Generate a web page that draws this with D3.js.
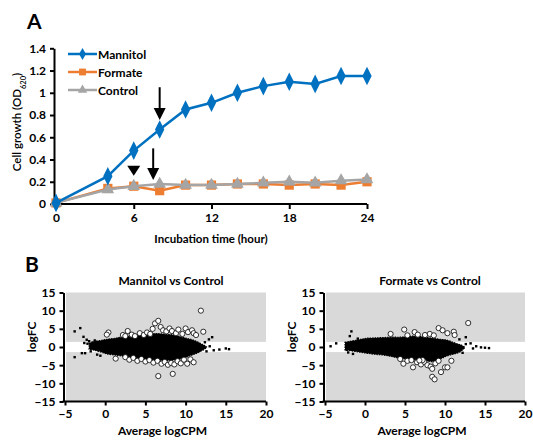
<!DOCTYPE html>
<html>
<head>
<meta charset="utf-8">
<script src="https://cdn.jsdelivr.net/npm/d3@7"></script>
<style>
  body { margin: 0; background: #fff; }
  svg { font-family: Lato, "Open Sans", sans-serif; font-weight: bold; }
  .axis path, .axis line { stroke: #000; stroke-width: 2; }
  .axis text { font-size: 12px; font-family: Lato, sans-serif; font-weight: bold; fill: #000; }
</style>
</head>
<body>
<div id="chart"></div>
<script>
// ---- panel A data ----
var hours = [0, 4, 6, 8, 10, 12, 14, 16, 18, 20, 22, 24];
var mannitol = [0.01, 0.25, 0.48, 0.67, 0.85, 0.91, 1.00, 1.06, 1.10, 1.08, 1.15, 1.15];
var formate  = [0.01, 0.14, 0.16, 0.12, 0.17, 0.17, 0.18, 0.18, 0.17, 0.18, 0.17, 0.20];
var control  = [0.01, 0.13, 0.16, 0.18, 0.17, 0.17, 0.18, 0.19, 0.20, 0.19, 0.21, 0.22];
var yTicksA = [0, 0.2, 0.4, 0.6, 0.8, 1, 1.2, 1.4];
var xTicksA = [0, 6, 12, 18, 24];

// ---- panel B data (MA plots) ----
var xTicksB = [-5, 0, 5, 10, 15, 20];
var yTicksB = [-15, -10, -5, 0, 5, 10, 15];
// dense core of the cloud: [logCPM, upper logFC, lower logFC]
var mcCore = [[-2.0,1.0,-0.6],[-1.5,1.5,-0.8],[-0.5,1.8,-1.4],[0.2,2.1,-1.9],[1.2,2.4,-2.2],[2.2,2.8,-2.5],
  [3.3,3.0,-2.8],[4.3,3.3,-3.1],[5.4,3.5,-3.4],[6.4,3.7,-3.6],[7.4,3.5,-3.7],[8.5,3.3,-3.6],
  [9.3,2.9,-3.3],[10.1,2.4,-2.8],[10.8,2.0,-2.2],[11.4,1.5,-1.7],[12.2,0.6,-0.8],[12.6,0.1,-0.2]];
var fcCore = [[-2.5,1.3,-0.8],[-1.0,1.9,-1.3],[0.2,2.4,-1.7],[1.2,2.5,-2.0],[2.3,2.6,-2.2],[3.3,2.7,-2.6],
  [4.4,2.7,-3.1],[5.4,2.9,-3.3],[6.5,3.0,-3.6],[7.5,2.7,-3.8],[8.5,2.4,-4.0],[9.4,2.1,-3.3],
  [10.2,1.9,-2.5],[11.0,1.3,-2.0],[11.5,0.9,-1.7],[12.1,0.5,-1.0],[12.4,0.0,-0.3]];
var mcDots = [[-3.8,4.3],[-3.1,5.2],[-3.8,-2.8],[-2.7,2.8],[-2.3,2.0],[-2.0,1.6],[-2.9,-1.7],[-2.5,-1.7],
  [-2.2,0.9],[-1.8,-1.2],[-1.0,-2.1],[-0.6,-2.4],[-1.3,1.8],[-1.4,0.3],[-2.6,1.1],[12.9,2.1],[13.3,2.7],
  [13.5,-0.9],[14.2,-0.7],[15.0,-0.4],[15.4,-0.6],[12.6,-1.2],[12.4,1.3],[13.0,0.2]];
var fcDots = [[-4.3,0.2],[-3.6,1.0],[-1.7,4.3],[-1.9,3.0],[-2.3,-0.8],[-2.1,-1.5],[-1.5,-1.9],[-0.9,2.3],
  [12.3,-0.2],[12.6,0.8],[13.2,1.0],[12.6,2.7],[13.9,0.2],[14.5,-0.1],[15.0,-0.2],[15.5,-0.3],
  [13.5,-0.4],[11.8,2.1],[12.2,-1.6]];
var mcCircles = [[0.4,4.0],[0.2,3.4],[2.2,3.3],[2.8,4.4],[2.5,3.0],[3.3,3.4],[3.7,3.0],[4.3,3.8],[4.8,3.3],
  [5.2,4.0],[5.6,3.6],[5.9,5.0],[6.2,6.5],[6.6,7.2],[6.9,5.5],[7.2,4.6],[7.6,4.3],[8.0,5.1],[8.3,4.4],
  [8.8,3.8],[9.1,4.8],[9.6,3.6],[10.0,5.1],[10.3,4.1],[10.8,4.6],[11.0,3.8],[11.3,3.3],[12.2,4.2],[11.9,10.0],
  [1.3,-3.2],[2.5,-2.8],[3.0,-3.5],[3.5,-3.0],[4.0,-3.8],[4.5,-3.3],[5.0,-4.0],[5.5,-3.6],[6.0,-4.3],
  [6.5,-3.8],[7.0,-4.6],[7.4,-4.1],[7.8,-4.9],[8.2,-4.4],[8.6,-4.8],[9.0,-3.9],[9.4,-4.5],[9.8,-3.5],
  [10.2,-4.6],[10.6,-3.4],[11.0,-4.2],[6.6,-8.0],[8.4,-7.4]];
var fcCircles = [[3.2,3.6],[4.9,4.8],[5.3,3.2],[6.2,4.1],[6.6,3.4],[7.5,3.3],[8.1,3.6],[8.6,3.2],[9.2,5.2],
  [9.7,4.6],[10.3,3.8],[11.1,4.2],[11.2,3.3],[12.9,6.6],
  [4.4,-3.3],[4.8,-4.6],[5.3,-3.8],[5.8,-3.6],[6.0,-5.6],[6.5,-4.2],[7.0,-4.8],[7.4,-4.1],[7.8,-5.0],
  [8.2,-5.4],[8.4,-6.0],[8.8,-4.5],[9.2,-3.8],[8.4,-8.2],[8.7,-8.9],[9.5,-6.9],[10.0,-5.6],[10.3,-5.6],
  [10.8,-3.8],[7.2,-3.6],[6.8,-3.7]];
var bandFC = 1.4;

var W = 533, H = 440;
var svg = d3.select("#chart").append("svg").attr("width", W).attr("height", H);

// ================= Panel A =================
var xA = d3.scaleLinear().domain([0, 24]).range([56, 367]);
var yA = d3.scaleLinear().domain([0, 1.4]).range([204, 48.3]);

svg.append("text").attr("x", 27).attr("y", 29).style("font-size", "21px").text("A");

svg.append("g").attr("class", "axis")
  .attr("transform", "translate(54,0)")
  .call(d3.axisLeft(yA).tickValues(yTicksA).tickSize(4).tickSizeOuter(0)
    .tickFormat(function(d){ return d3.format("~g")(d); }))
  .call(function(g){ g.selectAll("text").attr("x", -8); });

svg.append("g").attr("class", "axis")
  .attr("transform", "translate(0,204)")
  .call(d3.axisBottom(xA).tickValues(xTicksA).tickSize(5).tickSizeOuter(0))
  .call(function(g){ g.select(".domain").attr("d", "M54,0H367"); g.selectAll("text").attr("y", 9); });

svg.append("text").attr("x", 211).attr("y", 243).attr("text-anchor", "middle")
  .style("font-size", "11.5px").text("Incubation time (hour)");

var yt = svg.append("text").attr("transform", "translate(21,122) rotate(-90)")
  .attr("text-anchor", "middle").style("font-size", "11.5px").style("font-weight", "600");
yt.append("tspan").text("Cell growth (OD");
yt.append("tspan").attr("baseline-shift", "sub").style("font-size", "7.5px").text("620");
yt.append("tspan").text(")");

var series = [
  { name: "Mannitol", values: mannitol, color: "#0070C0", shape: d3.symbolDiamond, size: 75 },
  { name: "Formate", values: formate, color: "#ED7D31", shape: d3.symbolSquare, size: 85 },
  { name: "Control", values: control, color: "#A5A5A5", shape: d3.symbolTriangle, size: 70 }
];

var line = d3.line().x(function(d){ return xA(d[0]); }).y(function(d){ return yA(d[1]); });

// draw formate before control so gray sits on top, mannitol last
[1, 2, 0].forEach(function(i) {
  var s = series[i];
  var pts = hours.map(function(h, k){ return [h, s.values[k]]; });
  svg.append("path").datum(pts).attr("d", line)
    .attr("fill", "none").attr("stroke", s.color).attr("stroke-width", 2.5);
  svg.selectAll(null).data(pts).enter().append("path")
    .attr("d", d3.symbol().type(s.shape).size(s.size))
    .attr("transform", function(d){
      var sc = s.shape === d3.symbolDiamond ? " scale(1,1.15)" : "";
      return "translate(" + xA(d[0]) + "," + yA(d[1]) + ")" + sc; })
    .attr("fill", s.color);
});

// legend
series.forEach(function(s, i) {
  var ly = 54 + i * 18;
  svg.append("line").attr("x1", 68).attr("x2", 97).attr("y1", ly).attr("y2", ly)
    .attr("stroke", s.color).attr("stroke-width", 2.5);
  svg.append("path").attr("d", d3.symbol().type(s.shape).size(s.size * 0.55))
    .attr("transform", "translate(82.5," + ly + ")").attr("fill", s.color);
  svg.append("text").attr("x", 98).attr("y", ly + 4.5).style("font-size", "12px").text(s.name);
});

// arrows and arrowhead marker
function arrow(t, v0, v1) {
  var x = xA(t), y0 = yA(v0), y1 = yA(v1);
  svg.append("line").attr("x1", x).attr("x2", x).attr("y1", y0).attr("y2", y1 - 10)
    .attr("stroke", "#000").attr("stroke-width", 2);
  svg.append("path").attr("d", "M" + (x - 6) + "," + (y1 - 12) + "L" + (x + 6) + "," + (y1 - 12) + "L" + x + "," + y1 + "Z")
    .attr("fill", "#000");
}
arrow(8, 1.05, 0.755);
arrow(7.5, 0.50, 0.215);
svg.append("path")
  .attr("d", "M" + (xA(6) - 6.5) + "," + yA(0.345) + "L" + (xA(6) + 6.5) + "," + yA(0.345) + "L" + xA(6) + "," + yA(0.255) + "Z")
  .attr("fill", "#000");

// ================= Panel B =================
svg.append("text").attr("x", 25).attr("y", 272).style("font-size", "21px").text("B");

var yB = d3.scaleLinear().domain([-15, 15]).range([401.5, 292.5]);

function maPlot(x0, x1, title, titleX, core, dots, circles) {
  var xB = d3.scaleLinear().domain([-5, 20]).range([x0, x1]);
  var g = svg.append("g");
  g.append("rect").attr("x", x0 + 1).attr("y", yB(15)).attr("width", x1 - x0 - 1)
    .attr("height", yB(-15) - yB(15)).attr("fill", "#D9D9D9");
  g.append("rect").attr("x", x0 + 1).attr("y", yB(bandFC)).attr("width", x1 - x0 - 1)
    .attr("height", yB(-bandFC) - yB(bandFC)).attr("fill", "#fff");

  var area = d3.area().curve(d3.curveCatmullRom)
    .x(function(d){ return xB(d[0]); })
    .y0(function(d){ return yB(d[2]); })
    .y1(function(d){ return yB(d[1]); });
  g.append("path").datum(core).attr("d", area).attr("fill", "#000")
    .attr("stroke", "#000").attr("stroke-width", 1.2).attr("stroke-dasharray", "1.5 1");

  g.selectAll(null).data(dots).enter().append("rect")
    .attr("x", function(d){ return xB(d[0]) - 1.2; }).attr("y", function(d){ return yB(d[1]) - 1.2; })
    .attr("width", 2.4).attr("height", 2.4).attr("fill", "#000");

  g.selectAll(null).data(circles).enter().append("circle")
    .attr("cx", function(d){ return xB(d[0]); }).attr("cy", function(d){ return yB(d[1]); })
    .attr("r", 2.6).attr("fill", "#fff").attr("stroke", "#000").attr("stroke-width", 0.8);

  g.append("g").attr("class", "axis").attr("transform", "translate(" + (x0 - 1.5) + ",0)")
    .call(d3.axisLeft(yB).tickValues(yTicksB).tickSize(4).tickSizeOuter(0))
    .call(function(a){ a.selectAll("text").attr("x", -8); });
  g.append("g").attr("class", "axis").attr("transform", "translate(0," + yB(-15) + ")")
    .call(d3.axisBottom(xB).tickValues(xTicksB).tickSize(4).tickSizeOuter(0))
    .call(function(a){ a.select(".domain").attr("d", "M" + (x0 - 2.5) + ",0H" + x1); a.selectAll("text").attr("y", 8); });

  g.append("text").attr("x", titleX).attr("y", 285).attr("text-anchor", "middle")
    .style("font-size", "12px").text(title);
  g.append("text").attr("x", (x0 + x1) / 2 - 3).attr("y", 435).attr("text-anchor", "middle")
    .style("font-size", "12px").text("Average logCPM");
  g.append("text").attr("transform", "translate(" + (x0 - 29) + ",337) rotate(-90)")
    .attr("text-anchor", "middle").style("font-size", "12px").text("logFC");
}

maPlot(65, 266, "Mannitol vs Control", 171, mcCore, mcDots, mcCircles);
maPlot(325, 525, "Formate vs Control", 430, fcCore, fcDots, fcCircles);
</script>
</body>
</html>
